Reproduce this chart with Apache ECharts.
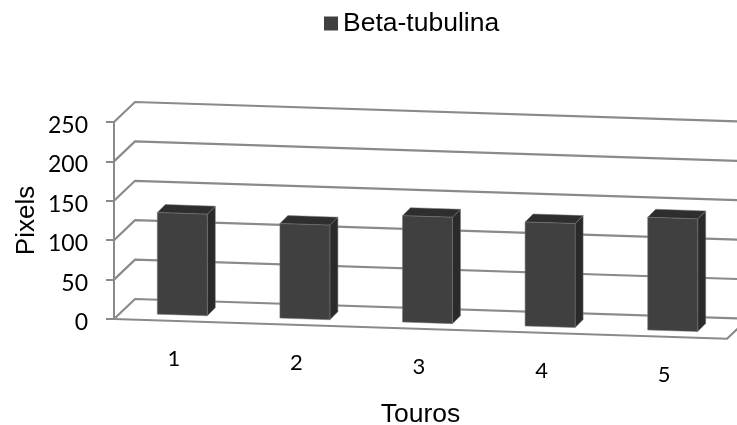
<!DOCTYPE html>
<html>
<head>
<meta charset="utf-8">
<script src="https://cdn.jsdelivr.net/npm/echarts@6/dist/echarts.min.js"></script>
<style>
  html, body { margin: 0; padding: 0; background: #fff; }
  #chart { width: 737px; height: 425px; }
</style>
</head>
<body>
<div id="chart"></div>
<script>
const categories = ["1", "2", "3", "4", "5"];
const betaTubulina = [129, 120, 135, 132, 143];
const yTicks = [0, 50, 100, 150, 200, 250];

// fake 3D: floor runs downhill, depth goes up and to the right
const SLOPE = 0.0322;
const DEPTH = [21, -20];
const BAR_DEPTH = [[7, -6], [15, -14]];
const BAR_WIDTH = 50;
const LINE = "#8a8a8a";

const chart = echarts.init(document.getElementById("chart"));

// x0 is the left end of the floor, everything shears down from there
const grid = { left: 114, top: 122, width: 613, height: 197, outerBoundsMode: "none" };
const shear = (x, y, d) => [
  x + (d ? d[0] : 0),
  y + (x - grid.left) * SLOPE + (d ? d[1] : 0),
];

const renderGrid = (params, api) => {
  const left = api.coord([0, api.value(0)]);
  const y = left[1];
  const x0 = grid.left;
  const x1 = grid.left + grid.width;
  const pts = [shear(x0, y), shear(x0, y, DEPTH), shear(x1, y, DEPTH)];
  const children = [
    { type: "polyline", shape: { points: pts }, style: { stroke: LINE, lineWidth: 2.2, fill: null } },
  ];
  if (api.value(0) === 0) {
    children.push({
      type: "polyline",
      shape: { points: [shear(x0, y), shear(x1, y), shear(x1, y, DEPTH)] },
      style: { stroke: LINE, lineWidth: 2.2, fill: null },
    });
  }
  return { type: "group", children };
};

const renderBar = (params, api) => {
  const base = api.coord([api.value(0), 0]);
  const top = api.coord([api.value(0), api.value(1)]);
  const xl = base[0] - BAR_WIDTH / 2;
  const xr = xl + BAR_WIDTH;
  const [d0, d1] = BAR_DEPTH;
  const poly = (points, fill) => ({
    type: "polygon",
    shape: { points },
    style: { fill, stroke: "#777", lineWidth: 0.5 },
  });
  const tl = shear(xl, top[1], d0);
  const tr = shear(xr, top[1], d0);
  const bl = shear(xl, base[1], d0);
  const br = shear(xr, base[1], d0);
  const back = (p) => [p[0] + (d1[0] - d0[0]), p[1] + (d1[1] - d0[1])];
  return {
    type: "group",
    children: [
      poly([tr, back(tr), back(br), br], "#2a2a2a"),
      poly([tl, back(tl), back(tr), tr], "#2e2e2e"),
      poly([tl, tr, br, bl], "#404040"),
    ],
  };
};

const renderLabel = (params, api) => {
  const base = api.coord([api.value(0), 0]);
  const p = shear(base[0], base[1], [-1.5, 38]);
  return {
    type: "text",
    style: {
      text: categories[api.value(0)],
      x: p[0],
      y: p[1],
      align: "center",
      verticalAlign: "middle",
      fill: "#000",
      font: "22px Lato",
    },
  };
};

chart.setOption({
  animation: false,
  backgroundColor: "#fff",
  legend: {
    data: ["Beta-tubulina"],
    top: 10,
    left: 324,
    padding: 0,
    icon: "rect",
    itemWidth: 14,
    itemHeight: 14,
    textStyle: { fontFamily: "Liberation Sans", fontSize: 26.5, color: "#000" },
  },
  grid,
  xAxis: {
    type: "category",
    data: categories,
    name: "Touros",
    nameLocation: "middle",
    nameGap: 82,
    nameTextStyle: { fontFamily: "Liberation Sans", fontSize: 26.5, color: "#000" },
    axisLine: { show: false },
    axisTick: { show: false },
    axisLabel: { show: false },
  },
  yAxis: {
    type: "value",
    min: 0,
    max: 250,
    interval: 50,
    name: "Pixels",
    nameLocation: "middle",
    nameRotate: 90,
    nameGap: 74,
    nameMoveOverlap: false,
    nameTextStyle: { fontFamily: "Liberation Sans", fontSize: 26, color: "#000" },
    axisLine: { show: true, lineStyle: { color: LINE, width: 2 } },
    axisTick: { show: true, length: 8, lineStyle: { color: LINE, width: 2 } },
    axisLabel: { fontFamily: "Lato", fontSize: 23, color: "#000", margin: 26, verticalAlign: "top", lineHeight: 7 },
    splitLine: { show: false },
  },
  series: [
    {
      type: "custom",
      silent: true,
      legendHoverLink: false,
      data: yTicks.map((v) => [v]),
      encode: { y: 0 },
      renderItem: renderGrid,
      z: 1,
    },
    {
      name: "Beta-tubulina",
      type: "custom",
      itemStyle: { color: "#404040" },
      data: betaTubulina.map((v, i) => [i, v]),
      encode: { x: 0, y: 1 },
      renderItem: renderBar,
      z: 3,
    },
    {
      type: "custom",
      silent: true,
      data: categories.map((c, i) => [i]),
      encode: { x: 0 },
      renderItem: renderLabel,
      z: 3,
    },
  ],
});
</script>
</body>
</html>
